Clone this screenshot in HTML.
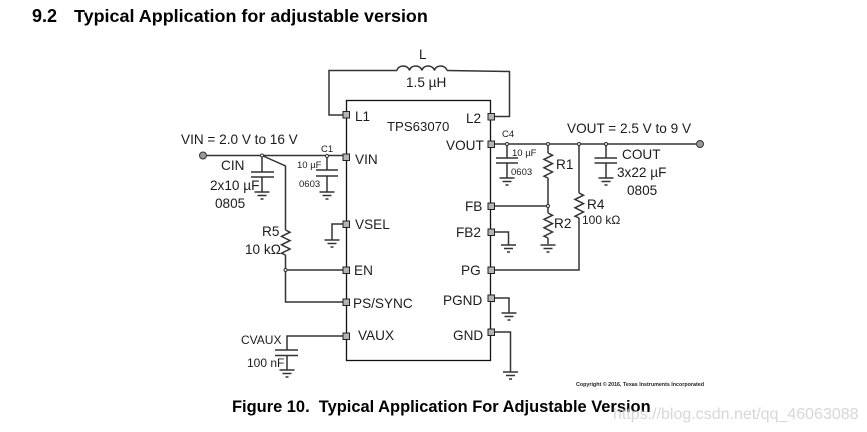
<!DOCTYPE html>
<html><head><meta charset="utf-8"><style>
html,body{margin:0;padding:0;background:#fff}
svg{display:block}
text{font-family:"Liberation Sans",sans-serif;fill:#1c1c1c}
.w{fill:none;stroke:#333;stroke-width:1.5}
.b{fill:none;stroke:#111;stroke-width:1.3}
.p{fill:#b4b4b4;stroke:#222;stroke-width:1}
.n{fill:#999;stroke:#333;stroke-width:1}
</style></head><body>
<svg width="867" height="432" viewBox="0 0 867 432" xmlns="http://www.w3.org/2000/svg">
<defs>
<g id="g"><path class="w" d="M-7.5 0H7.5M-4.5 3.5H4.5M-1.5 7H1.5" stroke-width="1.2"/></g>
<g id="rz"><path class="w" d="M0 0L4.5 2.2L-4 6.4L4.5 10.6L-4 14.8L4.5 19L-4 23.2L0 25"/></g>
</defs>
<text x="32" y="22" font-size="18" font-weight="700" style="fill:#000">9.2</text>
<text x="74" y="22" font-size="17.950" font-weight="700" style="fill:#000">Typical Application for adjustable version</text>
<rect x="346.5" y="100.5" width="144" height="260" class="b"/>
<path class="w" d="M346 115H329V70.5H397"/>
<path class="w" d="M397 70.5c1-6 11-6 12.500 0c1-6 11-6 12.500 0c1-6 11-6 12.500 0c1-6 11-6 12.500 0"/>
<path class="w" d="M447 70.500L509.500 71.500V116.500H491"/>
<path class="w" d="M207 155.500H346"/>
<path class="w" d="M262 155.500L285.500 166V230"/>
<use href="#rz" transform="translate(285.500 230)"/>
<path class="w" d="M285.500 255V302H346M285.500 270H346"/>
<path class="w" d="M262 155.500V172M251 172H274M251 177H274M262 177V192"/>
<use href="#g" x="262" y="192"/>
<path class="w" d="M327 156V170M316 170H338M316 176H338M327 176V192"/>
<use href="#g" x="327" y="192"/>
<path class="w" d="M346 224H332V240"/>
<use href="#g" x="332" y="240"/>
<path class="w" d="M346 336H287V350M275 350H298M275 355.500H298M287 355.500V370"/>
<use href="#g" x="287" y="370"/>
<path class="w" d="M491 144H696" stroke-width="1.700"/>
<path class="w" d="M507 144V158M496 158H518M496 163H518M507 163V178"/>
<use href="#g" x="507" y="178"/>
<path class="w" d="M548 144V153"/>
<use href="#rz" transform="translate(548 153)"/>
<path class="w" d="M548 178V213M491 206H548"/>
<use href="#rz" transform="translate(548 213)"/>
<path class="w" d="M548 238V244"/>
<use href="#g" x="548" y="245"/>
<path class="w" d="M579 144V193"/>
<use href="#rz" transform="translate(579 193)"/>
<path class="w" d="M579 218V270H491"/>
<path class="w" d="M606 144V158M594.500 158H617M594.500 163H617M606 163V178"/>
<use href="#g" x="606" y="178"/>
<path class="w" d="M491 232H508.500V245"/>
<use href="#g" x="508.500" y="245"/>
<path class="w" d="M491 298H509V313"/>
<use href="#g" x="509" y="313"/>
<path class="w" d="M491 332H510.500V372"/>
<use href="#g" x="510.500" y="372"/>
<g class="p">
<rect x="343" y="111.500" width="6.500" height="6.500"/>
<rect x="343" y="154" width="6.500" height="6.500"/>
<rect x="343" y="221" width="6.500" height="6.500"/>
<rect x="343" y="267" width="6.500" height="6.500"/>
<rect x="343" y="299" width="6.500" height="6.500"/>
<rect x="343" y="333" width="6.500" height="6.500"/>
<rect x="488" y="113.500" width="6.500" height="6.500"/>
<rect x="488" y="141" width="6.500" height="6.500"/>
<rect x="488" y="203" width="6.500" height="6.500"/>
<rect x="488" y="229" width="6.500" height="6.500"/>
<rect x="488" y="267" width="6.500" height="6.500"/>
<rect x="488" y="295" width="6.500" height="6.500"/>
<rect x="488" y="329" width="6.500" height="6.500"/>
</g>
<circle cx="203" cy="155.500" r="3.500" class="n"/>
<circle cx="700" cy="144" r="3.500" class="n"/>
<g fill="#fff" stroke="#333" stroke-width="1">
<circle cx="262" cy="155.500" r="1.500"/><circle cx="327" cy="156" r="1.500"/><circle cx="285.500" cy="270" r="1.500"/>
<circle cx="507" cy="144" r="1.500"/><circle cx="548" cy="144" r="1.500"/><circle cx="579" cy="144" r="1.500"/><circle cx="606" cy="144" r="1.500"/><circle cx="548" cy="206" r="1.500"/>
</g>
<g font-size="13.600">
<text x="419" y="59">L</text>
<text x="406" y="87">1.5 µH</text>
<text x="355" y="121">L1</text>
<text x="466" y="123">L2</text>
<text x="387" y="131" font-size="13.200">TPS63070</text>
<text x="446" y="150">VOUT</text>
<text x="355" y="164">VIN</text>
<text x="355" y="229">VSEL</text>
<text x="354" y="275">EN</text>
<text x="353" y="308">PS/SYNC</text>
<text x="358" y="340">VAUX</text>
<text x="465" y="211">FB</text>
<text x="456" y="237">FB2</text>
<text x="461" y="275">PG</text>
<text x="443" y="305">PGND</text>
<text x="453" y="340">GND</text>
<text x="181" y="144">VIN = 2.0 V to 16 V</text>
<text x="221" y="170">CIN</text>
<text x="210" y="190">2x10 µF</text>
<text x="215" y="208">0805</text>
<text x="262" y="236">R5</text>
<text x="245" y="254">10 kΩ</text>
<text x="567" y="133">VOUT = 2.5 V to 9 V</text>
<text x="622" y="159">COUT</text>
<text x="617" y="177">3x22 µF</text>
<text x="627" y="195">0805</text>
<text x="556" y="169">R1</text>
<text x="554" y="228">R2</text>
<text x="587" y="209">R4</text>
</g>
<g font-size="12">
<text x="241" y="344">CVAUX</text>
<text x="247" y="367">100 nF</text>
<text x="582" y="224">100 kΩ</text>
</g>
<g font-size="9.500">
<text x="321" y="152">C1</text>
<text x="297" y="168">10 µF</text>
<text x="299" y="187">0603</text>
<text x="502" y="137">C4</text>
<text x="512" y="156">10 µF</text>
<text x="511" y="175">0603</text>
</g>
<text x="576" y="386" font-size="5.350" font-weight="700">Copyright © 2016, Texas Instruments Incorporated</text>
<text x="232" y="412" font-size="16.450" font-weight="700" style="fill:#000" xml:space="preserve">Figure 10.  Typical Application For Adjustable Version</text>
<text x="613" y="419" font-size="16" style="fill:#c9c9c9;fill-opacity:.75">https://blog.csdn.net/qq_46063088</text>
</svg>
</body></html>
